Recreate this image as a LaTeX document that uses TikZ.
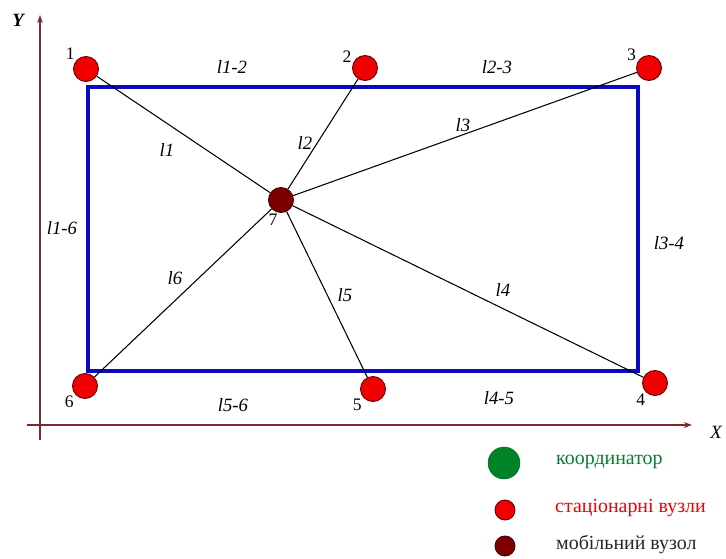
\documentclass[tikz,border=0pt]{standalone}
\usepackage{fontspec}
\setmainfont{Liberation Serif}
\usetikzlibrary{arrows.meta}
\definecolor{axiscol}{RGB}{125,40,50}
\definecolor{rectblue}{RGB}{10,10,190}
\definecolor{mobred}{RGB}{125,0,0}
\definecolor{statred}{RGB}{240,0,0}
\definecolor{coordgreen}{RGB}{0,130,40}

\begin{document}
\begin{tikzpicture}[x=0.03cm, y=-0.03cm, >={Stealth[length=7pt, width=5pt]},
  stat/.style={circle, draw=black!60!red, thick, fill=statred, minimum size=0.75cm, inner sep=0pt},
  mob/.style={circle, draw=black!70!red, thick, fill=mobred, minimum size=0.75cm, inner sep=0pt},
  num/.style={font=\fontsize{15}{15}\selectfont, inner sep=1pt},
  lbl/.style={font=\fontsize{16}{16}\selectfont\itshape, inner sep=1pt},
  legtext/.style={font=\fontsize{17}{17}\selectfont, anchor=west, inner sep=0pt}]
  \useasboundingbox (0,0) rectangle (726,558);

  % axes
  \coordinate (OX) at (27,425);
  \coordinate (EX) at (692,425);
  \coordinate (OY) at (40,440);
  \coordinate (EY) at (40,15);
  \draw[axiscol, line width=1pt, ->] (OX) -- (EX);
  \draw[axiscol, line width=1pt, ->] (OY) -- (EY);
  \node[lbl] (axX) at (716,432) {X};
  \node[lbl, font=\fontsize{16}{16}\selectfont\bfseries\itshape] (axY) at (18,20) {Y};

  % rectangle
  \coordinate (TL) at (88,87);
  \coordinate (TR) at (638,87);
  \coordinate (BR) at (638,371);
  \coordinate (BL) at (88,371);
  \draw[rectblue, line width=3.4pt] (TL) -- (TR) -- (BR) -- (BL) -- cycle;

  % nodes
  \node[stat, label={[num]140:1}] (n1) at (86,69) {};
  \node[stat, label={[num]160:2}] (n2) at (365,68) {};
  \node[stat, label={[num]155:3}] (n3) at (649,68) {};
  \node[stat, label={[num]230:4}] (n4) at (655,383) {};
  \node[stat, label={[num]220:5}] (n5) at (373,389) {};
  \node[stat, label={[num]220:6}] (n6) at (85,386) {};
  \node[mob, label={[num]260:7}] (n7) at (281,200) {};

  % links
  \foreach \k in {1,...,6}
    \draw[line width=0.9pt] (n7) -- (n\k);

  \node[lbl] (l1) at (167,150) {l1};
  \node[lbl] (l2) at (305,143) {l2};
  \node[lbl] (l3) at (463,125) {l3};
  \node[lbl] (l4) at (503,290) {l4};
  \node[lbl] (l5) at (345,295) {l5};
  \node[lbl] (l6) at (175,278) {l6};
  \node[lbl] (l12) at (232,67) {l1-2};
  \node[lbl] (l23) at (497,67) {l2-3};
  \node[lbl] (l16) at (62,228) {l1-6};
  \node[lbl] (l34) at (669,243) {l3-4};
  \node[lbl] (l56) at (233,405) {l5-6};
  \node[lbl] (l45) at (499,398) {l4-5};

  % legend
  \node[circle, fill=coordgreen, draw=coordgreen!80!black, minimum size=0.96cm, inner sep=0pt] (lg1) at (504,463) {};
  \node[stat, minimum size=0.6cm] (lg2) at (505,510) {};
  \node[mob, minimum size=0.6cm] (lg3) at (505,546) {};
  \node[legtext, text=coordgreen] (tx1) at (556,462) {координатор};
  \node[legtext, text=statred] (tx2) at (555,508) {стаціонарні вузли};
  \node[legtext, text=black!85] (tx3) at (556,545) {мобільний вузол};
\end{tikzpicture}
\end{document}
